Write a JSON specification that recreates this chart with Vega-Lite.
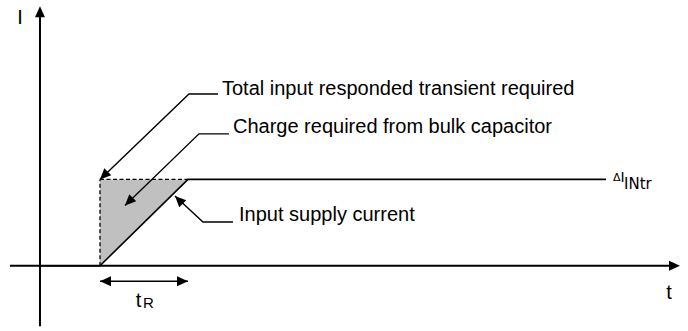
{
  "$schema": "https://vega.github.io/schema/vega-lite/v6.json",
  "width": 688,
  "height": 331,
  "padding": 0,
  "autosize": {"type": "fit", "contains": "padding"},
  "config": {"view": {"stroke": null}, "font": "Liberation Sans"},
  "datasets": {
    "shade": [
      {"t": 0, "i": 1, "i2": 0},
      {"t": 1, "i": 1, "i2": 1}
    ],
    "lines": [
      {"id": "yaxis", "kind": "axis", "ord": 0, "t": -0.682, "i": -0.7},
      {"id": "yaxis", "kind": "axis", "ord": 1, "t": -0.682, "i": 2.95},
      {"id": "xaxis", "kind": "axis", "ord": 0, "t": -1.023, "i": 0},
      {"id": "xaxis", "kind": "axis", "ord": 1, "t": 6.55, "i": 0},
      {"id": "step", "kind": "step", "ord": 0, "t": -0.682, "i": 0},
      {"id": "step", "kind": "step", "ord": 1, "t": 0, "i": 0},
      {"id": "step", "kind": "step", "ord": 2, "t": 1, "i": 1},
      {"id": "step", "kind": "step", "ord": 3, "t": 5.75, "i": 1},
      {"id": "dv", "kind": "dash", "ord": 0, "t": 0, "i": 0},
      {"id": "dv", "kind": "dash", "ord": 1, "t": 0, "i": 1},
      {"id": "dh", "kind": "dash", "ord": 0, "t": 0, "i": 1},
      {"id": "dh", "kind": "dash", "ord": 1, "t": 1, "i": 1},
      {"id": "total", "kind": "leader", "ord": 0, "t": 0, "i": 1},
      {"id": "total", "kind": "leader", "ord": 1, "t": 1.011, "i": 1.989},
      {"id": "total", "kind": "leader", "ord": 2, "t": 1.341, "i": 1.989},
      {"id": "charge", "kind": "leader", "ord": 0, "t": 0.284, "i": 0.697},
      {"id": "charge", "kind": "leader", "ord": 1, "t": 1.125, "i": 1.528},
      {"id": "charge", "kind": "leader", "ord": 2, "t": 1.466, "i": 1.528},
      {"id": "input", "kind": "leader", "ord": 0, "t": 0.852, "i": 0.809},
      {"id": "input", "kind": "leader", "ord": 1, "t": 1.17, "i": 0.506},
      {"id": "input", "kind": "leader", "ord": 2, "t": 1.511, "i": 0.506},
      {"id": "tr", "kind": "leader", "ord": 0, "t": 0, "i": -0.18},
      {"id": "tr", "kind": "leader", "ord": 1, "t": 1, "i": -0.18}
    ],
    "arrows": [
      {"dir": "up", "t": -0.682, "i": 3.006},
      {"dir": "right", "t": 6.591, "i": 0},
      {"dir": "right", "t": 1, "i": -0.18},
      {"dir": "left", "t": 0, "i": -0.18},
      {"dir": "downleft", "t": 0, "i": 1},
      {"dir": "downleft", "t": 0.284, "i": 0.697},
      {"dir": "upleft", "t": 0.852, "i": 0.809}
    ],
    "labels": [
      {"role": "main", "label": "Total input responded transient required", "t": 1.386, "i": 1.978},
      {"role": "main", "label": "Charge required from bulk capacitor", "t": 1.511, "i": 1.539},
      {"role": "main", "label": "Input supply current", "t": 1.58, "i": 0.517},
      {"role": "delta", "label": "Δ", "t": 5.83, "i": 0.978},
      {"role": "sym", "label": "I", "t": 5.915, "i": 0.966},
      {"role": "sub", "label": "INtr", "t": 5.955, "i": 0.888},
      {"role": "axis", "label": "I", "t": -0.909, "i": 2.798},
      {"role": "axis", "label": "t", "t": 6.466, "i": -0.382},
      {"role": "axis", "label": "t", "t": 0.4375, "i": -0.483},
      {"role": "subR", "label": "R", "t": 0.489, "i": -0.494}
    ]
  },
  "encoding": {
    "x": {"field": "t", "type": "quantitative", "axis": null, "scale": {"domain": [-1.13636, 6.68182], "nice": false, "zero": false}},
    "y": {"field": "i", "type": "quantitative", "axis": null, "scale": {"domain": [-0.64045, 3.07865], "nice": false, "zero": false}}
  },
  "layer": [
    {
      "data": {"name": "shade"},
      "mark": {"type": "area", "color": "#c0c0c0", "orient": "vertical"},
      "encoding": {"y2": {"field": "i2"}}
    },
    {
      "data": {"name": "lines"},
      "transform": [{"filter": "datum.kind === 'axis'"}],
      "mark": {"type": "line", "color": "black", "strokeWidth": 2},
      "encoding": {"detail": {"field": "id"}, "order": {"field": "ord"}}
    },
    {
      "data": {"name": "lines"},
      "transform": [{"filter": "datum.kind === 'step'"}],
      "mark": {"type": "line", "color": "black", "strokeWidth": 1.6},
      "encoding": {"detail": {"field": "id"}, "order": {"field": "ord"}}
    },
    {
      "data": {"name": "lines"},
      "transform": [{"filter": "datum.kind === 'dash'"}],
      "mark": {"type": "line", "color": "black", "strokeWidth": 1.3, "strokeDash": [4, 2.5]},
      "encoding": {"detail": {"field": "id"}, "order": {"field": "ord"}}
    },
    {
      "data": {"name": "lines"},
      "transform": [{"filter": "datum.kind === 'leader'"}],
      "mark": {"type": "line", "color": "black", "strokeWidth": 1.4},
      "encoding": {"detail": {"field": "id"}, "order": {"field": "ord"}}
    },
    {
      "data": {"name": "arrows"},
      "transform": [{"filter": "datum.dir === 'up'"}],
      "mark": {"type": "point", "shape": "M0,0L-0.45,1L0.45,1Z", "filled": true, "color": "black", "opacity": 1, "size": 484, "angle": 0}
    },
    {
      "data": {"name": "arrows"},
      "transform": [{"filter": "datum.dir === 'right'"}],
      "mark": {"type": "point", "shape": "M0,0L-0.45,1L0.45,1Z", "filled": true, "color": "black", "opacity": 1, "size": 484, "angle": 90}
    },
    {
      "data": {"name": "arrows"},
      "transform": [{"filter": "datum.dir === 'left'"}],
      "mark": {"type": "point", "shape": "M0,0L-0.45,1L0.45,1Z", "filled": true, "color": "black", "opacity": 1, "size": 484, "angle": 270}
    },
    {
      "data": {"name": "arrows"},
      "transform": [{"filter": "datum.dir === 'downleft'"}],
      "mark": {"type": "point", "shape": "M0,0L-0.45,1L0.45,1Z", "filled": true, "color": "black", "opacity": 1, "size": 484, "angle": 225}
    },
    {
      "data": {"name": "arrows"},
      "transform": [{"filter": "datum.dir === 'upleft'"}],
      "mark": {"type": "point", "shape": "M0,0L-0.45,1L0.45,1Z", "filled": true, "color": "black", "opacity": 1, "size": 484, "angle": 315}
    },
    {
      "data": {"name": "labels"},
      "transform": [{"filter": "datum.role === 'main'"}],
      "mark": {"type": "text", "align": "left", "baseline": "alphabetic", "fontSize": 20, "color": "black"},
      "encoding": {"text": {"field": "label"}}
    },
    {
      "data": {"name": "labels"},
      "transform": [{"filter": "datum.role === 'delta'"}],
      "mark": {"type": "text", "align": "left", "baseline": "alphabetic", "fontSize": 11, "font": "DejaVu Sans", "color": "black"},
      "encoding": {"text": {"field": "label"}}
    },
    {
      "data": {"name": "labels"},
      "transform": [{"filter": "datum.role === 'sym'"}],
      "mark": {"type": "text", "align": "left", "baseline": "alphabetic", "fontSize": 14, "font": "DejaVu Sans", "color": "black"},
      "encoding": {"text": {"field": "label"}}
    },
    {
      "data": {"name": "labels"},
      "transform": [{"filter": "datum.role === 'sub'"}],
      "mark": {"type": "text", "align": "left", "baseline": "alphabetic", "fontSize": 15, "font": "DejaVu Sans", "color": "black"},
      "encoding": {"text": {"field": "label"}}
    },
    {
      "data": {"name": "labels"},
      "transform": [{"filter": "datum.role === 'axis'"}],
      "mark": {"type": "text", "align": "center", "baseline": "alphabetic", "fontSize": 20, "color": "black"},
      "encoding": {"text": {"field": "label"}}
    },
    {
      "data": {"name": "labels"},
      "transform": [{"filter": "datum.role === 'subR'"}],
      "mark": {"type": "text", "align": "left", "baseline": "alphabetic", "fontSize": 15, "color": "black"},
      "encoding": {"text": {"field": "label"}}
    }
  ]
}
